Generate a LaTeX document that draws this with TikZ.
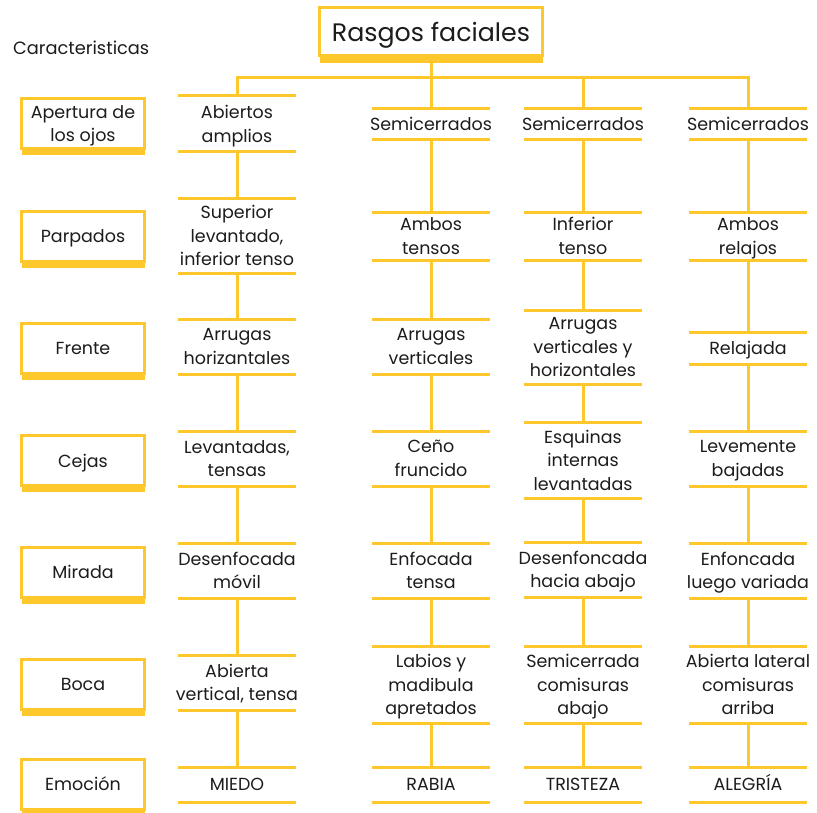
\documentclass[tikz,border=0pt]{standalone}
\usepackage{fontspec}
\setmainfont{Poppins}
\usetikzlibrary{shadows}
\definecolor{amber}{RGB}{254,200,45}
\definecolor{ink}{RGB}{28,28,28}

% one trait cell: name, x, top rule, bottom rule, text
\newcommand\trait[5]{%
  \node[cell, minimum height={(#4-#3)*1pt}] (#1) at (#2,{(#3+#4)/2}) {#5};
  \draw[rule] ([xshift=-59pt]#1.north) -- ([xshift=59pt]#1.north)
              ([xshift=-59pt]#1.south) -- ([xshift=59pt]#1.south);
}

\begin{document}
\begin{tikzpicture}[x=1pt,y=-1pt,
  rule/.style={draw=amber,line width=3pt},
  cell/.style={inner sep=0pt, outer sep=0pt, minimum width=118pt, align=center,
    text=ink, text depth=0pt, font=\fontsize{17.5}{23.5}\selectfont},
  tag/.style={draw=amber, line width=3pt, fill=white, inner sep=0pt,
    minimum width=123pt, minimum height=50pt, align=center, text=ink,
    text depth=0pt, font=\fontsize{17.5}{23.5}\selectfont,
    general shadow={fill=amber, shadow yshift=-6.5pt}},
  heading/.style={draw=amber, line width=3pt, fill=white, inner sep=0pt,
    minimum width=223pt, minimum height=48pt, text=ink, text depth=0pt,
    font=\fontsize{25.3}{28}\selectfont,
    general shadow={fill=amber, shadow yshift=-7.5pt}},
]
\useasboundingbox (0,0) rectangle (817,812);

% title
\node[heading] (title) at (431,31.5) {Rasgos faciales};
\node[text=ink, font=\fontsize{17.8}{20}\selectfont, inner sep=0pt, anchor=west]
  (caption) at (13,48) {Caracteristicas};

% row labels
\node[tag] (lab1) at (83,123.5) {Apertura de\\los ojos};
\node[tag] (lab2) at (83,236.5) {Parpados};
\node[tag] (lab3) at (83,348.5) {Frente};
\node[tag] (lab4) at (83,460.5) {Cejas};
\node[tag] (lab5) at (83,572) {Mirada};
\node[tag] (lab6) at (83,684.5) {Boca};
\node[tag] (lab7) at (83,784) {Emoción};

% first column
\trait{a1}{237}{95}{151}{\rule{0pt}{15pt}Abiertos\\amplios}
\trait{a2}{237}{198}{273}{Superior\\levantado,\\inferior tenso}
\trait{a3}{237}{319}{374}{Arrugas\\horizantales}
\trait{a4}{237}{431}{486}{Levantadas,\\tensas}
\trait{a5}{237}{543}{598}{Desenfocada\\móvil}
\trait{a6}{237}{655}{710}{Abierta\\vertical, tensa}
\trait{a7}{237}{767}{802}{MIEDO}

% second column
\trait{b1}{431}{108}{139}{Semicerrados}
\trait{b2}{431}{212}{260}{Ambos\\tensos}
\trait{b3}{431}{319}{374}{Arrugas\\verticales}
\trait{b4}{431}{431}{486}{Ceño\\fruncido}
\trait{b5}{431}{543}{598}{Enfocada\\tensa}
\trait{b6}{431}{646}{723}{Labios y\\madibula\\apretados}
\trait{b7}{431}{767}{802}{RABIA}

% third column
\trait{c1}{583}{108}{139}{Semicerrados}
\trait{c2}{583}{212}{260}{Inferior\\tenso}
\trait{c3}{583}{310}{384}{Arrugas\\verticales y\\horizontales}
\trait{c4}{583}{422}{498}{Esquinas\\internas\\levantadas}
\trait{c5}{583}{542}{597}{Desenfoncada\\hacia abajo}
\trait{c6}{583}{646}{723}{Semicerrada\\comisuras\\abajo}
\trait{c7}{583}{767}{802}{TRISTEZA}

% fourth column
\trait{d1}{748}{108}{139}{Semicerrados}
\trait{d2}{748}{212}{260}{Ambos\\relajos}
\trait{d3}{748}{332}{364}{Relajada}
\trait{d4}{748}{431}{486}{Levemente\\bajadas}
\trait{d5}{748}{543}{598}{Enfoncada\\luego variada}
\trait{d6}{748}{646}{723}{Abierta lateral\\comisuras\\arriba}
\trait{d7}{748}{767}{802}{ALEGR\smash{Í}A}

% branching from the title
\coordinate (hub) at (title.south |- 0,77);
\draw[rule] (title.south) -- (hub);
\draw[rule] (a1.north) -- (a1.north |- hub) -- (d1.north |- hub) -- (d1.north);
\draw[rule] (b1.north) -- (b1.north |- hub);
\draw[rule] (c1.north) -- (c1.north |- hub);

% vertical links down each column
\foreach \col in {a,b,c,d}{
  \foreach \r [evaluate=\r as \n using int(\r+1)] in {1,...,6}{
    \draw[rule] (\col\r.south) -- (\col\n.north);
  }
}
\end{tikzpicture}
\end{document}
